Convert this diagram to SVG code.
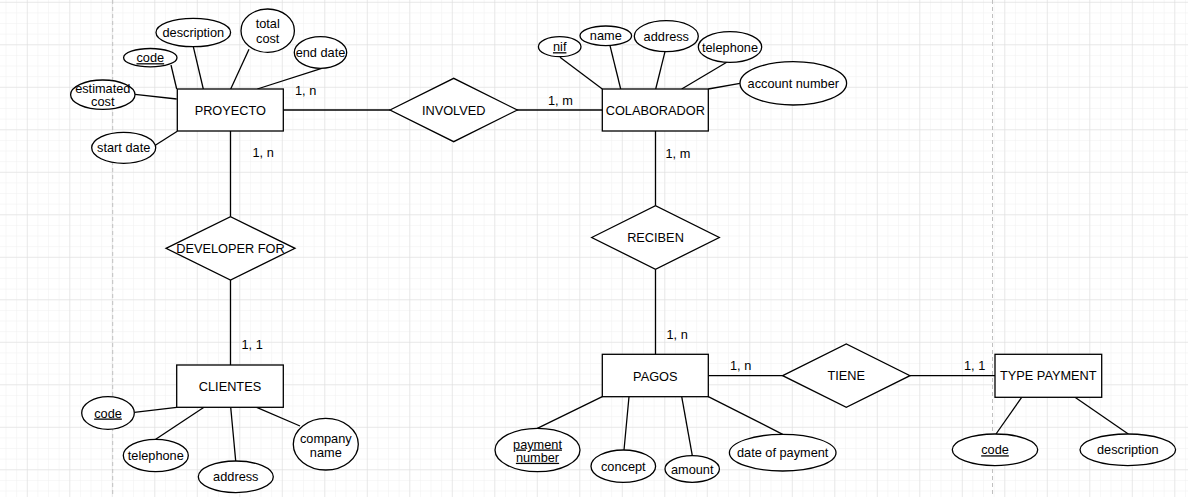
<svg xmlns="http://www.w3.org/2000/svg" width="1188" height="497" viewBox="0 0 1188 497">
<style>
.ent{fill:#fff;stroke:#000;stroke-width:1.3}
.rel{fill:#fff;stroke:#000;stroke-width:1.3}
.att{fill:#fff;stroke:#000;stroke-width:1.3}
.ln{stroke:#000;stroke-width:1.3;fill:none}
text{font-family:"Liberation Sans",Arial,sans-serif;font-size:12.75px;fill:#000;text-anchor:middle}
.key{text-decoration:underline}
.card{text-anchor:start}
</style>
<defs>
<pattern id="minor" x="5.55" y="1.8" width="10.625" height="10.625" patternUnits="userSpaceOnUse">
<path d="M0 0V10.625M0 0H10.625" stroke="#efefef" stroke-width="1" fill="none"/>
</pattern>
<pattern id="major" x="26.8" y="1.8" width="42.5" height="42.5" patternUnits="userSpaceOnUse">
<path d="M0 0V42.5M0 0H42.5" stroke="#dcdcdc" stroke-width="1" fill="none"/>
</pattern>
</defs>
<g id="background">
<rect width="1188" height="497" fill="#fff"/>
<rect width="1188" height="497" fill="url(#minor)"/>
<rect width="1188" height="497" fill="url(#major)"/>
<path d="M112.7 0V497M992.5 0V497" stroke="#c0c0c0" stroke-width="1" stroke-dasharray="4 3"/>
</g>
<g id="connectors">
<line class="ln" x1="283" y1="110" x2="390" y2="110"/>
<line class="ln" x1="517" y1="110" x2="602" y2="110"/>
<line class="ln" x1="230.5" y1="131" x2="230.5" y2="216.7"/>
<line class="ln" x1="230.5" y1="280" x2="230.5" y2="365"/>
<line class="ln" x1="655.5" y1="131" x2="655.5" y2="205.7"/>
<line class="ln" x1="655.5" y1="269.3" x2="655.5" y2="354.3"/>
<line class="ln" x1="708.3" y1="375.7" x2="782.7" y2="375.7"/>
<line class="ln" x1="910" y1="375.7" x2="995" y2="375.7"/>
<line class="ln" x1="171" y1="65" x2="176.7" y2="89"/>
<line class="ln" x1="193.3" y1="46.7" x2="203.3" y2="89"/>
<line class="ln" x1="249" y1="49.3" x2="230.7" y2="89"/>
<line class="ln" x1="321.7" y1="68.3" x2="257.3" y2="89"/>
<line class="ln" x1="135" y1="94.3" x2="176.7" y2="99"/>
<line class="ln" x1="155.7" y1="145" x2="177.3" y2="131.3"/>
<line class="ln" x1="560" y1="57.3" x2="602.3" y2="89"/>
<line class="ln" x1="610" y1="45.7" x2="620.7" y2="89"/>
<line class="ln" x1="665" y1="51.7" x2="655.7" y2="89"/>
<line class="ln" x1="726.7" y1="62.3" x2="681.7" y2="89"/>
<line class="ln" x1="740" y1="83.3" x2="708.3" y2="89"/>
<line class="ln" x1="134.3" y1="412.3" x2="176.7" y2="407.3"/>
<line class="ln" x1="155.7" y1="439.3" x2="204" y2="407.3"/>
<line class="ln" x1="235.7" y1="461" x2="230.7" y2="407.3"/>
<line class="ln" x1="300" y1="426" x2="256.7" y2="407.3"/>
<line class="ln" x1="537.3" y1="428.3" x2="602.3" y2="396.7"/>
<line class="ln" x1="624" y1="450" x2="629" y2="396.7"/>
<line class="ln" x1="692.3" y1="455.7" x2="681.7" y2="396.7"/>
<line class="ln" x1="782.7" y1="434.3" x2="708.3" y2="396.7"/>
<line class="ln" x1="996" y1="434" x2="1021.7" y2="397.3"/>
<line class="ln" x1="1128.3" y1="434" x2="1075" y2="397.3"/>
<text class="card" x="295" y="94.5">1, n</text>
<text class="card" x="548" y="104.5">1, m</text>
<text class="card" x="252.5" y="157">1, n</text>
<text class="card" x="665.5" y="157.5">1, m</text>
<text class="card" x="241.5" y="348.5">1, 1</text>
<text class="card" x="666.5" y="338.5">1, n</text>
<text class="card" x="730" y="369.5">1, n</text>
<text class="card" x="964" y="369.5">1, 1</text>
</g>
<g id="proyecto">
<rect class="ent" x="177.3" y="89" width="106" height="42"/>
<text x="230.3" y="114.5">PROYECTO</text>
</g>
<g id="proyecto-code"><ellipse class="att" cx="150.3" cy="57.7" rx="26.7" ry="9.2"/><text class="key" x="150.3" y="62.2">code</text></g>
<g id="proyecto-description"><ellipse class="att" cx="193.3" cy="32.5" rx="37.3" ry="14.2"/><text x="193.3" y="37">description</text></g>
<g id="proyecto-total-cost"><ellipse class="att" cx="267.7" cy="30.7" rx="26.7" ry="21.7"/><text x="267.7" y="27.8">total</text><text x="267.7" y="42.5">cost</text></g>
<g id="proyecto-end-date"><ellipse class="att" cx="320.5" cy="52.5" rx="26.2" ry="15.8"/><text x="320.5" y="57">end date</text></g>
<g id="proyecto-estimated-cost"><ellipse class="att" cx="102.8" cy="94.7" rx="32.2" ry="14.7"/><text x="102.8" y="92.8">estimated</text><text x="102.8" y="106.2">cost</text></g>
<g id="proyecto-start-date"><ellipse class="att" cx="123.7" cy="147.8" rx="32" ry="15.5"/><text x="123.7" y="152.3">start date</text></g>
<g id="involved">
<polygon class="rel" points="390,110 453.7,78.3 517.3,110 453.7,141.7"/>
<text x="453.7" y="114.5">INVOLVED</text>
</g>
<g id="colaborador">
<rect class="ent" x="602.3" y="89" width="106" height="42"/>
<text x="655.3" y="114.5">COLABORADOR</text>
</g>
<g id="colaborador-nif"><ellipse class="att" cx="559.7" cy="46.7" rx="21.3" ry="10"/><text class="key" x="559.7" y="51.2">nif</text></g>
<g id="colaborador-name"><ellipse class="att" cx="605.8" cy="35.8" rx="25.8" ry="9.8"/><text x="605.8" y="40.3">name</text></g>
<g id="colaborador-address"><ellipse class="att" cx="666.3" cy="36.2" rx="32" ry="15.5"/><text x="666.3" y="40.7">address</text></g>
<g id="colaborador-telephone"><ellipse class="att" cx="730" cy="47" rx="31.7" ry="15.3"/><text x="730" y="51.5">telephone</text></g>
<g id="colaborador-account-number"><ellipse class="att" cx="793.3" cy="83.3" rx="53.3" ry="21.7"/><text x="793.3" y="87.8">account number</text></g>
<g id="developer-for">
<polygon class="rel" points="166,248.3 230.5,216.7 295,248.3 230.5,280"/>
<text x="230.5" y="252.8">DEVELOPER FOR</text>
</g>
<g id="clientes">
<rect class="ent" x="176.7" y="365" width="106.6" height="42.3"/>
<text x="230" y="390.6">CLIENTES</text>
</g>
<g id="clientes-code"><ellipse class="att" cx="108" cy="413" rx="26.3" ry="16.3"/><text class="key" x="108" y="417.5">code</text></g>
<g id="clientes-telephone"><ellipse class="att" cx="155.8" cy="455.5" rx="32.5" ry="16.2"/><text x="155.8" y="460">telephone</text></g>
<g id="clientes-address"><ellipse class="att" cx="235.8" cy="476.8" rx="37.5" ry="15.8"/><text x="235.8" y="481.3">address</text></g>
<g id="clientes-company-name"><ellipse class="att" cx="325.8" cy="444.2" rx="32.5" ry="25.8"/><text x="325.8" y="442.8">company</text><text x="325.8" y="456.8">name</text></g>
<g id="reciben">
<polygon class="rel" points="591.7,237.5 655.5,205.7 719.3,237.5 655.5,269.3"/>
<text x="655.5" y="242">RECIBEN</text>
</g>
<g id="pagos">
<rect class="ent" x="602.3" y="354.3" width="106" height="42.4"/>
<text x="655.3" y="380.5">PAGOS</text>
</g>
<g id="pagos-payment-number"><ellipse class="att" cx="537.5" cy="450" rx="42.5" ry="21.7"/><text class="key" x="537.5" y="448.5">payment</text><text class="key" x="537.5" y="461.8">number</text></g>
<g id="pagos-concept"><ellipse class="att" cx="623.3" cy="466.2" rx="32.3" ry="16.2"/><text x="623.3" y="470.7">concept</text></g>
<g id="pagos-amount"><ellipse class="att" cx="692.2" cy="469" rx="27.2" ry="13.3"/><text x="692.2" y="473.5">amount</text></g>
<g id="pagos-date-of-payment"><ellipse class="att" cx="782.7" cy="452.7" rx="53.3" ry="18.3"/><text x="782.7" y="457.2">date of payment</text></g>
<g id="tiene">
<polygon class="rel" points="782.7,375.7 846.3,344 910,375.7 846.3,407.3"/>
<text x="846.3" y="380.2">TIENE</text>
</g>
<g id="type-payment">
<rect class="ent" x="995" y="354.3" width="106.7" height="43"/>
<text x="1048.3" y="380.3">TYPE PAYMENT</text>
</g>
<g id="type-payment-code"><ellipse class="att" cx="995" cy="449.8" rx="42.7" ry="15.8"/><text class="key" x="995" y="454.3">code</text></g>
<g id="type-payment-description"><ellipse class="att" cx="1127.8" cy="449.8" rx="47.8" ry="15.8"/><text x="1127.8" y="454.3">description</text></g>
</svg>
